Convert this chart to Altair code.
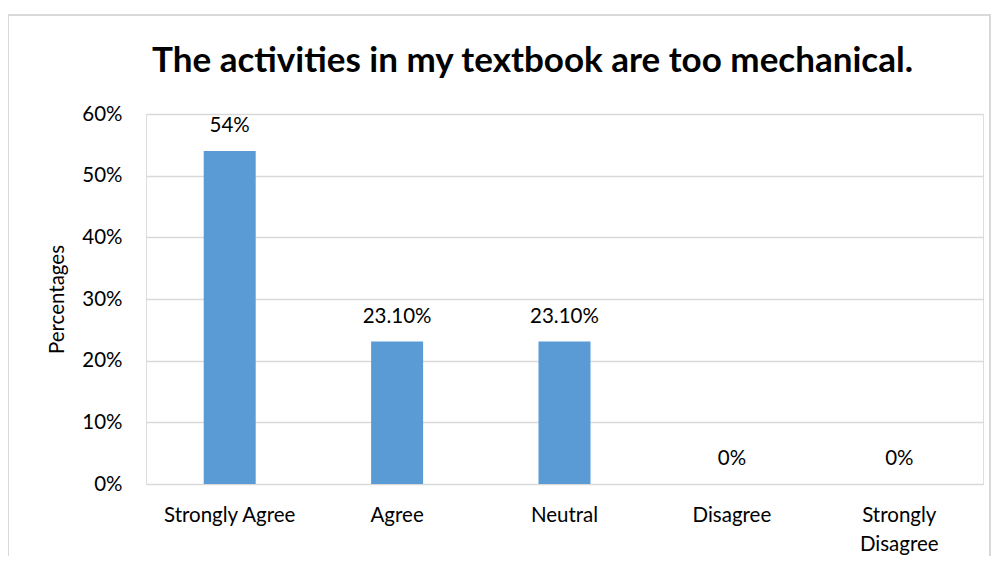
import altair as alt
import pandas as pd

categories = ["Strongly Agree", "Agree", "Neutral", "Disagree", "Strongly Disagree"]
values = [0.54, 0.231, 0.231, 0.0, 0.0]
labels = ["54%", "23.10%", "23.10%", "0%", "0%"]

df = pd.DataFrame({"cat": categories, "val": values, "lab": labels})

FONT = "Lato"
FS = 20.5

x = alt.X("cat:N", sort=categories, title=None,
          scale=alt.Scale(paddingInner=0, paddingOuter=0),
          axis=alt.Axis(labelAngle=0, domain=False, ticks=False, labelPadding=21,
                        labelFontSize=FS, labelFont=FONT, labelColor="#000",
                        labelExpr="datum.value == 'Strongly Disagree' ? ['Strongly', 'Disagree'] : datum.value",
                        labelLineHeight=29))
y = alt.Y("val:Q", title="Percentages",
          scale=alt.Scale(domain=[0, 0.6], nice=False),
          axis=alt.Axis(format=".0%", values=[0, 0.1, 0.2, 0.3, 0.4, 0.5, 0.6],
                        domain=False, ticks=False, labelPadding=24,
                        labelFontSize=FS, labelFont=FONT, labelColor="#000",
                        titleFontSize=FS, titleFont=FONT, titleFontWeight="normal",
                        titleColor="#000", titlePadding=14,
                        gridColor="#d9d9d9", gridWidth=1.5))

bars = alt.Chart(df).mark_bar(size=52, color="#5B9BD5").encode(x=x, y=y)
text = alt.Chart(df).mark_text(dy=-15, fontSize=FS, font=FONT, color="#000",
                               baseline="bottom").encode(x=x, y=y, text="lab:N")
border = alt.Chart(df).mark_rect(fill=None, stroke="#d9d9d9", strokeWidth=2).encode(
    x=alt.value(-138), x2=alt.value(844), y=alt.value(-99), y2=alt.value(480))

chart = alt.layer(border, bars, text).properties(
    width=837, height=370,
    padding={"left": 138, "top": 106, "right": 9, "bottom": 72},
    autosize=alt.AutoSizeParams(type="none"),
    title=alt.TitleParams("The activities in my textbook are too mechanical.",
                          fontSize=35, font=FONT, fontWeight="bold", color="#000",
                          anchor="middle", dx=-32, offset=-93, baseline="alphabetic"),
).configure_view(strokeWidth=0).configure(background="white")

chart.save("out.html", embed_options={"renderer": "svg", "actions": False})
